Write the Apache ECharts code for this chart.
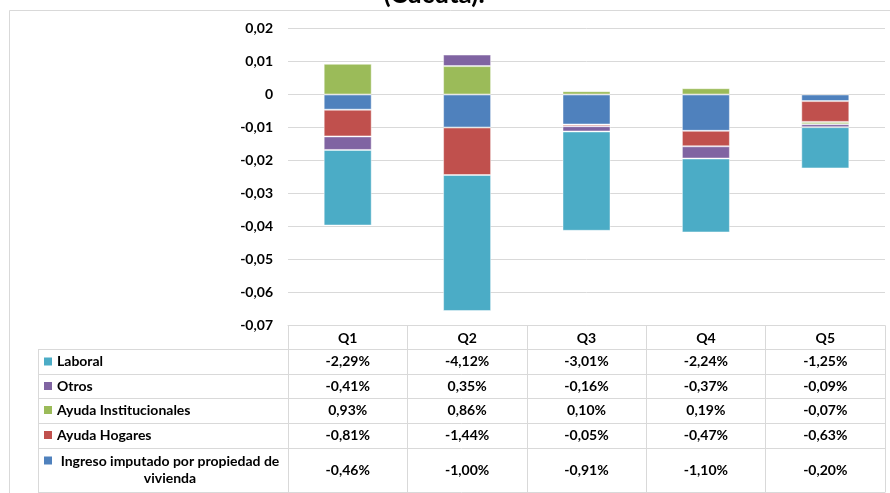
<!DOCTYPE html>
<html><head><meta charset="utf-8">
<script src="https://cdn.jsdelivr.net/npm/echarts@6/dist/echarts.min.js"></script>
<style>html,body{margin:0;padding:0;background:#fff}#c{width:890px;height:493px}</style>
</head><body><div id="c"></div><script>
const categories = ['Q1', 'Q2', 'Q3', 'Q4', 'Q5'];
const laboral = [-0.0229, -0.0412, -0.0301, -0.0224, -0.0125];
const otros = [-0.0041, 0.0035, -0.0016, -0.0037, -0.0009];
const ayudaInstitucionales = [0.0093, 0.0086, 0.0010, 0.0019, -0.0007];
const ayudaHogares = [-0.0081, -0.0144, -0.0005, -0.0047, -0.0063];
const ingresoImputado = [-0.0046, -0.0100, -0.0091, -0.0110, -0.0020];
const yTickLabels = ['0,02', '0,01', '0', '-0,01', '-0,02', '-0,03', '-0,04', '-0,05', '-0,06', '-0,07'];

const C = { laboral: '#4BACC6', otros: '#8064A2', inst: '#9BBB59', hog: '#C0504D', ing: '#4F81BD' };
const FONT = 'Lato, "Open Sans", sans-serif';
const FS = 14;
const LINE = '#d9d9d9';

// table rows in display order
const rows = [
  { name: 'Laboral', data: laboral, color: C.laboral, center: 36 },
  { name: 'Otros', data: otros, color: C.otros, center: 60.5 },
  { name: 'Ayuda Institucionales', data: ayudaInstitucionales, color: C.inst, center: 84.5 },
  { name: 'Ayuda Hogares', data: ayudaHogares, color: C.hog, center: 109.5 },
  { name: 'Ingreso imputado por propiedad de vivienda', data: ingresoImputado, color: C.ing, center: 144.5 }
];
const fmtPct = v => (v * 100).toFixed(2).replace('.', ',') + '%';

const gridTop = 28.5, gridBottomPx = 325.5, gridLeft = 288, gridRight = 885;
const rowLines = [349.5, 374.5, 398.5, 423.5, 448.5, 492.5];

const chart = echarts.init(document.getElementById('c'), null, { renderer: 'canvas' });

const xAxes = [{
  type: 'category', data: categories, gridIndex: 0, position: 'bottom',
  axisLine: { onZero: false, lineStyle: { color: LINE, width: 1 } },
  axisTick: { show: true, interval: 0, length: 167, lineStyle: { color: LINE, width: 1 } },
  axisLabel: { interval: 0, margin: 12.5, verticalAlign: 'middle', fontFamily: FONT, fontWeight: 'bold', fontSize: FS, color: '#000' }
}];
rows.forEach(r => {
  xAxes.push({
    type: 'category', data: categories, gridIndex: 0, position: 'bottom', offset: 0,
    axisLine: { show: false, onZero: false }, axisTick: { show: false },
    axisLabel: {
      interval: 0, margin: r.center, verticalAlign: 'middle', fontFamily: FONT, fontWeight: 'bold', fontSize: FS, color: '#000',
      formatter: (v, i) => fmtPct(r.data[i])
    }
  });
});

const mkSeries = (name, data, color) => ({
  name, type: 'bar', stack: 'total', data, xAxisIndex: 0, barWidth: 48,
  itemStyle: { color, borderColor: 'rgba(255,255,255,0.45)', borderWidth: 1 },
  emphasis: { disabled: true }
});

const graphics = [
  { type: 'text', silent: true, style: { text: '(Cúcuta).', x: 434, y: 8, align: 'center', verticalAlign: 'bottom', fontFamily: FONT, fontWeight: 'bold', fontSize: 26, fill: '#000' } },
  { type: 'rect', silent: true, shape: { x: 9.5, y: 10.5, width: 1000, height: 1000 }, style: { fill: 'none', stroke: LINE, lineWidth: 1 } },
  { type: 'line', silent: true, shape: { x1: 38.5, y1: 349, x2: 38.5, y2: 493 }, style: { stroke: LINE, lineWidth: 1 } }
];
rowLines.forEach(y => graphics.push({ type: 'line', silent: true, shape: { x1: 38, y1: y, x2: gridRight, y2: y }, style: { stroke: LINE, lineWidth: 1 } }));
rows.forEach((r, k) => {
  const cy = gridBottomPx + r.center;
  if (k < rows.length - 1) {
    graphics.push({ type: 'rect', silent: true, shape: { x: 44, y: cy - 4, width: 8, height: 8 }, style: { fill: r.color } });
    graphics.push({ type: 'text', silent: true, style: { text: r.name, x: 57, y: cy, align: 'left', verticalAlign: 'middle', fontFamily: FONT, fontWeight: 'bold', fontSize: FS, fill: '#000' } });
  } else {
    graphics.push({ type: 'rect', silent: true, shape: { x: 44, y: cy - 13.5, width: 8, height: 8 }, style: { fill: r.color } });
    graphics.push({ type: 'text', silent: true, style: { text: 'Ingreso imputado por propiedad de\nvivienda', x: 170, y: cy, align: 'center', verticalAlign: 'middle', lineHeight: 17.5, fontFamily: FONT, fontWeight: 'bold', fontSize: FS, fill: '#000' } });
  }
});

chart.setOption({
  animation: false,
  backgroundColor: '#fff',
  grid: { left: gridLeft, right: 890 - gridRight, top: gridTop, bottom: 493 - gridBottomPx, containLabel: false },
  xAxis: xAxes,
  yAxis: {
    type: 'value', min: -0.07, max: 0.02, interval: 0.01,
    axisLine: { show: false }, axisTick: { show: false },
    splitLine: { lineStyle: { color: LINE, width: 1 } },
    axisLabel: {
      margin: 15, fontFamily: FONT, fontWeight: 'bold', fontSize: FS, color: '#000',
      formatter: v => yTickLabels[Math.round((0.02 - v) / 0.01)]
    }
  },
  series: [
    mkSeries('Ingreso imputado por propiedad de vivienda', ingresoImputado, C.ing),
    mkSeries('Ayuda Hogares', ayudaHogares, C.hog),
    mkSeries('Ayuda Institucionales', ayudaInstitucionales, C.inst),
    mkSeries('Otros', otros, C.otros),
    mkSeries('Laboral', laboral, C.laboral)
  ],
  graphic: graphics
});
</script></body></html>
